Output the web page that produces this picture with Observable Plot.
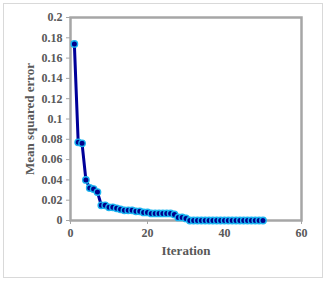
<!DOCTYPE html>
<html>
<head>
<meta charset="utf-8">
<script src="https://cdn.jsdelivr.net/npm/d3@7"></script>
<script src="https://cdn.jsdelivr.net/npm/@observablehq/plot@0.6"></script>
<style>
  html, body { margin: 0; padding: 0; background: #fff; }
  #wrap { position: relative; width: 326px; height: 283px; }
  #wrap::before { content: ""; position: absolute; left: 3px; top: 3px; width: 318px; height: 273px; border: 1px solid #d9d9d9; pointer-events: none; }
  svg { display: block; }
</style>
</head>
<body>
<div id="wrap"></div>
<script>
const iterations = d3.range(1, 51);
const mse = [
  0.174, 0.077, 0.076, 0.040, 0.032, 0.031, 0.028, 0.015, 0.015, 0.013,
  0.013, 0.012, 0.011, 0.010, 0.010, 0.010, 0.009, 0.009, 0.008, 0.008,
  0.007, 0.007, 0.007, 0.007, 0.007, 0.007, 0.006, 0.003, 0.003, 0.002,
  0.000, 0.000, 0.000, 0.000, 0.000, 0.000, 0.000, 0.000, 0.000, 0.000,
  0.000, 0.000, 0.000, 0.000, 0.000, 0.000, 0.000, 0.000, 0.000, 0.000
];
const xTicks = [0, 20, 40, 60];
const yTicks = [0, 0.02, 0.04, 0.06, 0.08, 0.1, 0.12, 0.14, 0.16, 0.18, 0.2];
const data = iterations.map((x, i) => ({x, y: mse[i]}));

const font = "'Liberation Serif', 'Times New Roman', serif";
const chart = Plot.plot({
  width: 326,
  height: 283,
  marginLeft: 70,
  marginRight: 25,
  marginTop: 17,
  marginBottom: 63,
  style: {fontFamily: font, fontSize: "12px", fontWeight: "bold", color: "#595959", background: "transparent"},
  x: {domain: [0, 60]},
  y: {domain: [0, 0.2]},
  marks: [
    Plot.frame({stroke: "#a6a6a6", strokeWidth: 2.5}),
    Plot.axisX({ticks: xTicks, tickSize: 4, tickPadding: 4, stroke: "#a6a6a6", fill: "#595959",
      label: "Iteration", labelAnchor: "center", labelArrow: "none", labelOffset: 34, fontSize: 12}),
    Plot.axisY({ticks: yTicks, tickSize: 4, tickPadding: 4, stroke: "#a6a6a6", fill: "#595959",
      tickFormat: d => String(+d.toFixed(2)),
      label: "Mean squared error", labelAnchor: "center", labelArrow: "none", labelOffset: 46}),
    Plot.line(data, {x: "x", y: "y", stroke: "#000099", strokeWidth: 3}),
    Plot.dot(data, {x: "x", y: "y", r: 3.2, fill: "#00008b", stroke: "#1ab4f0", strokeWidth: 1.4})
  ]
});
d3.select(chart).selectAll("[aria-label='x-axis label'] text, [aria-label='y-axis label'] text")
  .style("font-size", "13px");
document.getElementById("wrap").appendChild(chart);
</script>
</body>
</html>
